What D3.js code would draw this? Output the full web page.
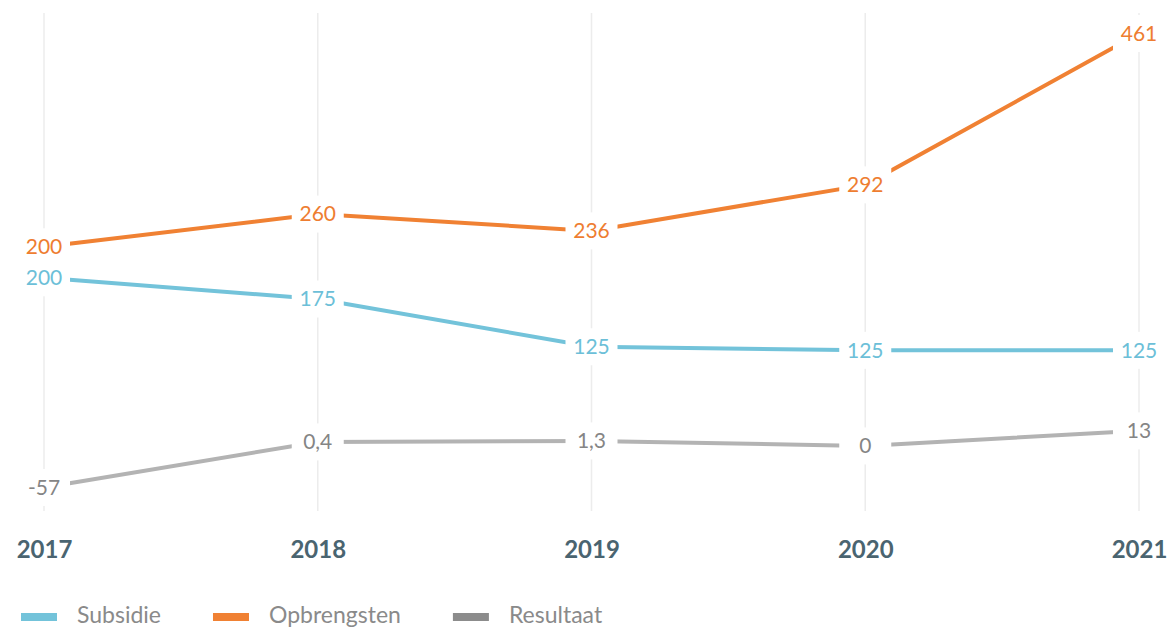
<!DOCTYPE html>
<html>
<head>
<meta charset="utf-8">
<script src="https://cdn.jsdelivr.net/npm/d3@7"></script>
<style>
  html, body { margin: 0; padding: 0; background: #fff; }
  svg { display: block; font-family: Lato, "Open Sans", sans-serif; }
</style>
</head>
<body>
<svg id="chart" width="1170" height="630"></svg>
<script>
// ---- data ----
const years = [2017, 2018, 2019, 2020, 2021];
const seriesNames = ["Subsidie", "Opbrengsten", "Resultaat"];
const subsidie = [190, 166, 112, 108, 108];
const opbrengsten = [225, 262, 243, 295, 466];
const resultaat = [-47, 4.5, 5.6, 0, 17];
// value labels as printed
const subsidieLabels = ["200", "175", "125", "125", "125"];
const opbrengstenLabels = ["200", "260", "236", "292", "461"];
const resultaatLabels = ["-57", "0,4", "1,3", "0", "13"];

const lineColors = ["#73c3da", "#f08133", "#b3b3b3"];
const textColors = ["#6cbfd8", "#ee7d31", "#858585"];
const legendColors = ["#73c3da", "#f08133", "#8c8c8c"];

const series = [
  { name: seriesNames[0], values: subsidie, labels: subsidieLabels },
  { name: seriesNames[1], values: opbrengsten, labels: opbrengstenLabels },
  { name: seriesNames[2], values: resultaat, labels: resultaatLabels }
];

// ---- scales ----
const svg = d3.select("#chart");
const x = d3.scaleLinear().domain([2017, 2021]).range([44, 1139]);
const y = d3.scaleLinear().domain([-60, 470]).range([499, 30]);

// gridlines
svg.append("g").selectAll("line").data(years).join("line")
  .attr("x1", d => x(d)).attr("x2", d => x(d))
  .attr("y1", 13).attr("y2", 511)
  .attr("stroke", "#ececec").attr("stroke-width", 1.5);

// lines
const line = d3.line().x((d, i) => x(years[i])).y(d => y(d));
svg.append("g").selectAll("path").data(series).join("path")
  .attr("d", d => line(d.values))
  .attr("fill", "none")
  .attr("stroke", (d, i) => lineColors[i])
  .attr("stroke-width", 4);

// labels with white boxes
series.forEach((s, si) => {
  const g = svg.append("g");
  s.values.forEach((v, i) => {
    const cx = x(years[i]);
    const cy = y(v);
    g.append("rect")
      .attr("x", cx - 26).attr("y", cy - 18.5)
      .attr("width", 52).attr("height", 37)
      .attr("fill", "#fff");
    g.append("text")
      .attr("x", cx).attr("y", cy)
      .attr("dy", "0.35em")
      .attr("text-anchor", "middle")
      .attr("font-size", 21)
      .attr("fill", textColors[si])
      .text(s.labels[i]);
  });
});

// x axis labels
const xAxis = d3.axisBottom(x).tickValues(years).tickFormat(d3.format("d")).tickSize(0).tickPadding(0);
const ax = svg.append("g").attr("transform", "translate(0,541)").call(xAxis);
ax.select(".domain").remove();
ax.selectAll("text")
  .attr("font-family", "Lato, sans-serif")
  .attr("font-size", 24)
  .attr("font-weight", 700)
  .attr("fill", "#4a6470");

// legend
const legend = svg.append("g");
let lx = 21;
series.forEach((s, i) => {
  legend.append("rect")
    .attr("x", lx).attr("y", 613)
    .attr("width", 36).attr("height", 8)
    .attr("fill", legendColors[i]);
  const t = legend.append("text")
    .attr("x", lx + 56).attr("y", 623)
    .attr("font-size", 23)
    .attr("fill", "#8a8a8a")
    .text(s.name);
  lx = lx + 56 + t.node().getComputedTextLength() + 52;
});
</script>
</body>
</html>
